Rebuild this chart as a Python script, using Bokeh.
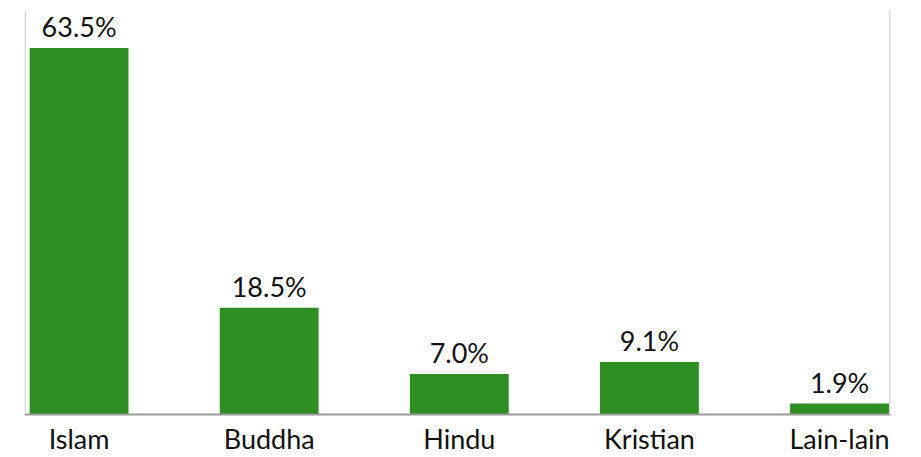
from bokeh.plotting import figure
from bokeh.models import ColumnDataSource, Span, FixedTicker
from bokeh.core.properties import value
from bokeh.embed import file_html
from bokeh.resources import INLINE

categories = ["Islam", "Buddha", "Hindu", "Kristian", "Lain-lain"]
percentages = [63.5, 18.5, 7.0, 9.1, 1.9]
labels = ["63.5%", "18.5%", "7.0%", "9.1%", "1.9%"]

xs = list(range(len(categories)))
src = ColumnDataSource(dict(x=xs, y=percentages, label=labels))

p = figure(width=921, height=457, output_backend="svg", toolbar_location=None,
           x_range=(-0.287, 4.268), y_range=(0, 70),
           min_border_left=24, min_border_right=31, min_border_top=10, min_border_bottom=43)
p.outline_line_color = None
p.grid.visible = False
p.yaxis.visible = False

p.vbar(x="x", top="y", width=0.52, source=src, fill_color="#2f8e22", line_color=None)
p.text(x="x", y="y", text="label", source=src, text_align="center", text_baseline="bottom",
       y_offset=-5, text_font=value("Lato"), text_font_size="27px", text_color="#111111")

for loc in (-0.287, 4.268):
    p.add_layout(Span(location=loc, dimension="height", line_color="#dddddd", line_width=3))

ax = p.xaxis[0]
ax.ticker = FixedTicker(ticks=xs)
ax.major_label_overrides = {i: c for i, c in enumerate(categories)}
ax.major_tick_line_color = None
ax.minor_tick_line_color = None
ax.axis_line_color = "#999999"
ax.axis_line_width = 2
ax.major_label_standoff = 1
ax.major_label_text_font = "Lato"
ax.major_label_text_font_size = "27px"
ax.major_label_text_color = "#111111"

open("out.html", "w").write(file_html(p, INLINE))
